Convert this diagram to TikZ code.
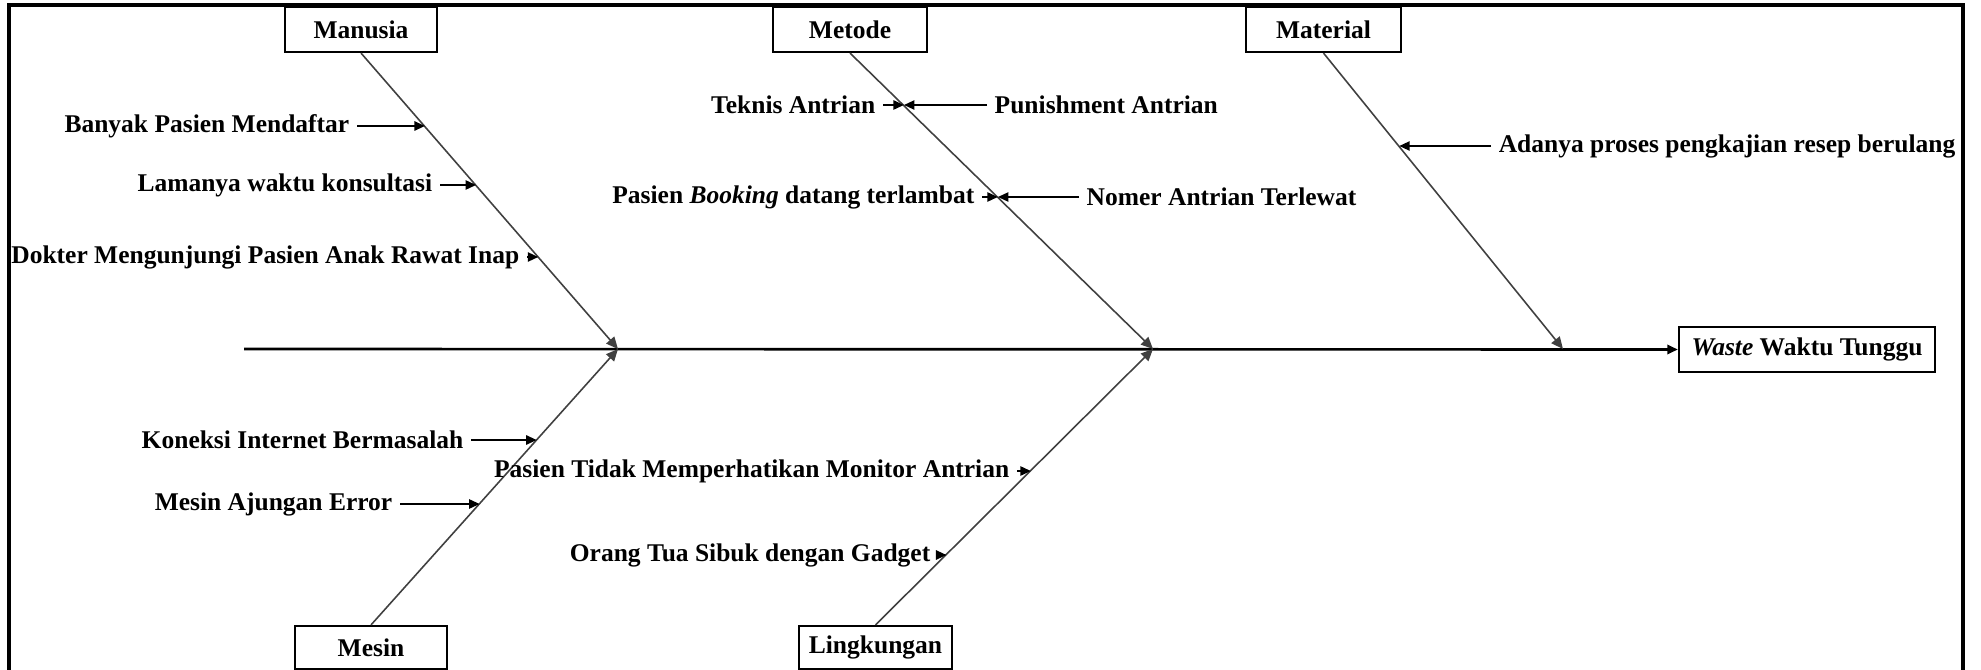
\documentclass[tikz,border=0pt]{standalone}
\usepackage{fontspec}
\setmainfont{Liberation Serif}
\usetikzlibrary{arrows.meta,calc}
\begin{document}
\begin{tikzpicture}[x=0.01cm,y=-0.01cm,
  every node/.style={font=\fontsize{7.25}{8.7}\selectfont\bfseries},
  catbox/.style={draw, line width=0.6pt, minimum height=0.45cm, inner sep=0pt},
  lbl/.style={inner xsep=2pt, inner ysep=1pt},
  bone/.style={draw=black!75, line width=0.45pt, -{Triangle[length=3.4pt,width=3pt]}},
  cause/.style={line width=0.6pt, -{Triangle[length=3pt,width=2.6pt]}},
  spine/.style={line width=0.75pt, -{Triangle[length=3pt,width=2.6pt]}},
  frame/.style={line width=1.1pt}]
\useasboundingbox (0,0) rectangle (1981,670);
% open frame: top, left and right sides
\draw[frame] (9,675) -- (9,5) -- (1963,5) -- (1963,675);

% category boxes and the effect
\node[catbox, minimum width=1.52cm] (manusia) at (361,29.5) {Manusia};
\node[catbox, minimum width=1.54cm] (metode) at (850,29.5) {Metode};
\node[catbox, minimum width=1.55cm] (material) at (1323.5,29.5) {Material};
\node[catbox, minimum width=1.52cm, minimum height=0.43cm] (mesin) at (371,647.5) {Mesin};
\node[catbox, minimum width=1.53cm, minimum height=0.43cm] (lingkungan) at (875.5,647.5) {Lingkungan};
\node[catbox, minimum width=2.56cm] (effect) at (1807,349.5) {\textit{Waste} Waktu Tunggu};

% spine and joints
\coordinate (tail) at (244,349);
\coordinate (j1) at (618,349);
\coordinate (j2) at (1153,349);
\coordinate (j3) at (1563,349);
\draw[spine] (tail) -- (effect.west);

% main bones
\draw[bone] (manusia.south) -- (j1);
\draw[bone] (metode.south) -- (j2);
\draw[bone] (material.south) -- (j3);
\draw[bone] (mesin.north) -- (j1);
\draw[bone] (lingkungan.north) -- (j2);

% points on the bones where causes meet them
\coordinate (m1) at ($(manusia.south)!0.249!(j1)$);
\coordinate (m2) at ($(manusia.south)!0.448!(j1)$);
\coordinate (m3) at ($(manusia.south)!0.690!(j1)$);
\coordinate (t1) at ($(metode.south)!0.178!(j2)$);
\coordinate (t2) at ($(metode.south)!0.488!(j2)$);
\coordinate (a1) at ($(material.south)!0.316!(j3)$);
\coordinate (s1) at ($(mesin.north)!0.671!(j1)$);
\coordinate (s2) at ($(mesin.north)!0.440!(j1)$);
\coordinate (l1) at ($(lingkungan.north)!0.560!(j2)$);
\coordinate (l2) at ($(lingkungan.north)!0.256!(j2)$);

% Manusia
\node[lbl, anchor=east] (c1) at (357,126) {Banyak Pasien Mendaftar};
\node[lbl, anchor=east] (c2) at (440,185) {Lamanya waktu konsultasi};
\node[lbl, anchor=east] (c3) at (527,257) {Dokter Mengunjungi Pasien Anak Rawat Inap};
\draw[cause] (c1.east) -- (c1.east -| m1);
\draw[cause] (c2.east) -- (c2.east -| m2);
\draw[cause] (c3.east) -- (c3.east -| m3);

% Metode
\node[lbl, anchor=east] (c4) at (883,105) {Teknis Antrian};
\node[lbl, anchor=west] (c5) at (987,105) {Punishment Antrian};
\node[lbl, anchor=east] (c6) at (982,197) {Pasien \textit{Booking} datang terlambat};
\node[lbl, anchor=west] (c7) at (1079,197) {Nomer Antrian Terlewat};
\draw[cause] (c4.east) -- (c4.east -| t1);
\draw[cause] (c5.west) -- (c5.west -| t1);
\draw[cause] (c6.east) -- (c6.east -| t2);
\draw[cause] (c7.west) -- (c7.west -| t2);

% Material
\node[lbl, anchor=west] (c8) at (1491,146) {Adanya proses pengkajian resep berulang};
\draw[cause] (c8.west) -- (c8.west -| a1);

% Mesin
\node[lbl, anchor=east] (c9) at (471,440) {Koneksi Internet Bermasalah};
\node[lbl, anchor=east] (c10) at (400,504) {Mesin Ajungan Error};
\draw[cause] (c9.east) -- (c9.east -| s1);
\draw[cause] (c10.east) -- (c10.east -| s2);

% Lingkungan
\node[lbl, anchor=east] (c11) at (1017,471) {Pasien Tidak Memperhatikan Monitor Antrian};
\node[lbl, anchor=east] (c12) at (938,555) {Orang Tua Sibuk dengan Gadget};
\draw[cause] (c11.east) -- (c11.east -| l1);
\draw[cause] (c12.east) -- (c12.east -| l2);
\end{tikzpicture}
\end{document}
